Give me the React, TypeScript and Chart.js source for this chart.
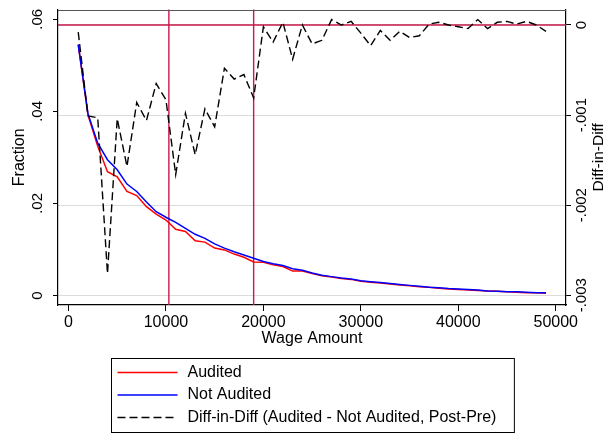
import React, { useEffect, useRef } from "react";
import { Chart, registerables } from "chart.js";

Chart.register(...registerables);

const FONT = "'Liberation Sans', Arial, Helvetica, sans-serif";

// Wage bins (x categories)
const wageBins = [
  1000, 2000, 3000, 4000, 5000, 6000, 7000, 8000, 9000, 10000,
  11000, 12000, 13000, 14000, 15000, 16000, 17000, 18000, 19000, 20000,
  21000, 22000, 23000, 24000, 25000, 26000, 27000, 28000, 29000, 30000,
  31000, 32000, 33000, 34000, 35000, 36000, 37000, 38000, 39000, 40000,
  41000, 42000, 43000, 44000, 45000, 46000, 47000, 48000, 49000,
];

// Fraction (left axis)
const audited = [
  0.0545, 0.0392, 0.0324, 0.0269, 0.0258, 0.0226, 0.0217, 0.0193, 0.0177, 0.0164,
  0.0144, 0.0139, 0.0119, 0.0116, 0.0103, 0.0099, 0.0090, 0.0083, 0.0073, 0.0072,
  0.0067, 0.0063, 0.0053, 0.0053, 0.0048, 0.0043, 0.0040, 0.0037, 0.0035, 0.0031,
  0.0029, 0.0027, 0.0025, 0.0023, 0.0021, 0.0019, 0.0018, 0.0016, 0.0014, 0.0013,
  0.0012, 0.0011, 0.0010, 0.0009, 0.0008, 0.0007, 0.0006, 0.0006, 0.0005,
];

const notAudited = [
  0.0545, 0.0395, 0.0331, 0.0295, 0.0273, 0.0242, 0.0226, 0.0203, 0.0182, 0.0170,
  0.0159, 0.0146, 0.0133, 0.0124, 0.0112, 0.0103, 0.0095, 0.0088, 0.0081, 0.0074,
  0.0069, 0.0065, 0.0058, 0.0055, 0.0049, 0.0044, 0.0041, 0.0038, 0.0036, 0.0032,
  0.0030, 0.0028, 0.0026, 0.0024, 0.0022, 0.0020, 0.0018, 0.0017, 0.0015, 0.0014,
  0.0013, 0.0012, 0.0010, 0.0009, 0.0008, 0.0008, 0.0007, 0.0006, 0.0006,
];

// Diff-in-Diff (right axis)
const diffInDiff = [
  -0.00008, -0.00101, -0.00103, -0.00276, -0.00104, -0.00157, -0.00086, -0.00106, -0.00065, -0.00083,
  -0.00166, -0.00098, -0.00144, -0.00093, -0.00113, -0.00048, -0.0006, -0.00055, -0.00081, -0.00002,
  -0.00019, 0.00003, -0.00038, 0.0, -0.00021, -0.00017, 0.00006, 0.0, 0.00004, -0.00009,
  -0.00023, -0.00006, -0.00017, -0.00007, -0.00014, -0.00012, 0.00001, 0.00003, 0.0, -0.00002,
  -0.00004, 0.00006, -0.00004, 0.00003, 0.00004, 0.00001, 0.00004, 0.0, -0.00007,
];

const seriesNames = [
  "Audited",
  "Not Audited",
  "Diff-in-Diff (Audited - Not Audited, Post-Pre)",
];

const xTicks = [0, 10000, 20000, 30000, 40000, 50000];
const leftTicks = [0, 0.02, 0.04, 0.06];
const leftTickLabels = ["0", ".02", ".04", ".06"];
const rightTicks = [0, -0.001, -0.002, -0.003];
const rightTickLabels = ["0", "-.001", "-.002", "-.003"];
const xTitle = "Wage Amount";
const leftTitle = "Fraction";
const rightTitle = "Diff-in-Diff";

const refWages = [10300, 19000];
const refDiff = 0;

const REF_COLOR = "#c71a4b";

function drawRotated(ctx: CanvasRenderingContext2D, text: string, x: number, y: number, font: string) {
  ctx.save();
  ctx.translate(x, y);
  ctx.rotate(-Math.PI / 2);
  ctx.font = font;
  ctx.fillStyle = "#000";
  ctx.textAlign = "center";
  ctx.textBaseline = "middle";
  ctx.fillText(text, 0, 0);
  ctx.restore();
}

const refLinePlugin = {
  id: "refLines",
  beforeDatasetsDraw(chart: any) {
    const { ctx, chartArea: a, scales } = chart;
    ctx.save();
    ctx.strokeStyle = REF_COLOR;
    ctx.lineWidth = 1.4;
    ctx.beginPath();
    for (const w of refWages) {
      const px = scales.x.getPixelForValue(w);
      ctx.moveTo(px, a.top);
      ctx.lineTo(px, a.bottom);
    }
    const py = scales.y2.getPixelForValue(refDiff);
    ctx.moveTo(a.left, py);
    ctx.lineTo(a.right, py);
    ctx.stroke();
    ctx.restore();
  },
};

const axisLabelPlugin = {
  id: "axisLabels",
  afterDraw(chart: any) {
    const { ctx, chartArea: a, scales } = chart;
    const yS = scales.y;
    const y2S = scales.y2;
    const tickFont = `15px ${FONT}`;
    leftTicks.forEach((v, i) => {
      drawRotated(ctx, leftTickLabels[i], yS.right - 20.5, yS.getPixelForValue(v), tickFont);
    });
    rightTicks.forEach((v, i) => {
      drawRotated(ctx, rightTickLabels[i], y2S.left + 15.7, y2S.getPixelForValue(v), tickFont);
    });
    const midY = (a.top + a.bottom) / 2;
    drawRotated(ctx, leftTitle, yS.left + 20, midY, `16px ${FONT}`);
    drawRotated(ctx, rightTitle, y2S.left + 32.3, midY, `15.5px ${FONT}`);
    // top outline of plot region
    ctx.save();
    ctx.strokeStyle = "#555";
    ctx.lineWidth = 1;
    ctx.beginPath();
    ctx.moveTo(a.left, Math.round(a.top) + 0.5);
    ctx.lineTo(a.right, Math.round(a.top) + 0.5);
    ctx.stroke();
    ctx.restore();
  },
};

const boxLegendPlugin = {
  id: "boxLegend",
  afterDraw(chart: any) {
    const { ctx, chartArea: a } = chart;
    const datasets = chart.data.datasets;
    ctx.save();
    ctx.font = `16px ${FONT}`;
    const textW = Math.max(...datasets.map((d: any) => ctx.measureText(d.label).width));
    const padL = 6, sample = 60, gap = 10, padR = 18;
    const w = padL + sample + gap + textW + padR;
    const h = 74;
    const cx = (a.left + a.right) / 2;
    const left = Math.round(cx - w / 2) + 0.5;
    const top = Math.round(a.bottom + 53) + 0.5;
    ctx.fillStyle = "#fff";
    ctx.fillRect(left, top, w, h);
    ctx.strokeStyle = "#000";
    ctx.lineWidth = 1;
    ctx.strokeRect(left, top, w, h);
    datasets.forEach((d: any, i: number) => {
      const ry = top + 14 + i * 22.5;
      ctx.save();
      ctx.strokeStyle = d.borderColor;
      ctx.lineWidth = d.borderWidth;
      ctx.setLineDash(d.borderDash || []);
      ctx.beginPath();
      ctx.moveTo(left + padL, ry);
      ctx.lineTo(left + padL + sample, ry);
      ctx.stroke();
      ctx.restore();
      ctx.fillStyle = "#000";
      ctx.textAlign = "left";
      ctx.textBaseline = "middle";
      ctx.fillText(d.label, left + padL + sample + gap, ry);
    });
    ctx.restore();
  },
};

export default function App() {
  const canvasRef = useRef<HTMLCanvasElement | null>(null);

  useEffect(() => {
    const canvas = canvasRef.current;
    if (!canvas) return;
    Chart.defaults.font.family = FONT;
    const chart = new Chart(canvas, {
      type: "line",
      data: {
        datasets: [
          {
            label: seriesNames[0],
            data: wageBins.map((x, i) => ({ x, y: audited[i] })),
            yAxisID: "y",
            borderColor: "#ff0000",
            borderWidth: 1.5,
            pointRadius: 0,
            fill: false,
            tension: 0,
            order: 3,
          },
          {
            label: seriesNames[1],
            data: wageBins.map((x, i) => ({ x, y: notAudited[i] })),
            yAxisID: "y",
            borderColor: "#0000ff",
            borderWidth: 1.5,
            pointRadius: 0,
            fill: false,
            tension: 0,
            order: 2,
          },
          {
            label: seriesNames[2],
            data: wageBins.map((x, i) => ({ x, y: diffInDiff[i] })),
            yAxisID: "y2",
            borderColor: "#000000",
            borderWidth: 1.4,
            borderDash: [8, 4],
            pointRadius: 0,
            fill: false,
            tension: 0,
            order: 1,
          },
        ],
      },
      options: {
        animation: false,
        responsive: false,
        maintainAspectRatio: false,
        layout: { padding: { top: 9.5, left: 0, right: 0, bottom: 0 } },
        plugins: {
          legend: { display: false },
          tooltip: { enabled: false },
        },
        scales: {
          x: {
            type: "linear",
            min: -1077,
            max: 51052,
            afterBuildTicks: (s: any) => {
              s.ticks = xTicks.map((v) => ({ value: v }));
            },
            afterFit: (s: any) => {
              s.height = 128;
            },
            ticks: {
              font: { size: 16, family: FONT },
              color: "#000",
              padding: 2,
              maxRotation: 0,
              minRotation: 0,
              autoSkip: false,
              callback: (v: any) => String(v),
            },
            grid: { drawOnChartArea: false, drawTicks: true, tickLength: 6, tickColor: "#000", lineWidth: 1 },
            border: { display: true, color: "#000", width: 1.2 },
            title: {
              display: true,
              text: xTitle,
              color: "#000",
              font: { size: 16, family: FONT },
              padding: { top: 0, bottom: 85 },
            },
          },
          y: {
            type: "linear",
            position: "left",
            min: -0.002064,
            max: 0.06213,
            afterBuildTicks: (s: any) => {
              s.ticks = leftTicks.map((v) => ({ value: v }));
            },
            afterFit: (s: any) => {
              s.width = 58;
            },
            ticks: { display: false },
            grid: { drawOnChartArea: false, drawTicks: true, tickLength: 5, tickColor: "#000", lineWidth: 1 },
            border: { display: true, color: "#000", width: 1.2 },
          },
          y2: {
            type: "linear",
            position: "right",
            min: -0.003108,
            max: 0.000172,
            afterBuildTicks: (s: any) => {
              s.ticks = rightTicks.map((v) => ({ value: v }));
            },
            afterFit: (s: any) => {
              s.width = 50;
            },
            ticks: { display: false },
            grid: { drawOnChartArea: true, color: "#dcdcdc", drawTicks: true, tickLength: 5, tickColor: "#000", lineWidth: 1 },
            border: { display: true, color: "#000", width: 1.2 },
          },
        },
      } as any,
      plugins: [refLinePlugin, axisLabelPlugin, boxLegendPlugin],
    });
    return () => chart.destroy();
  }, []);

  return (
    <div style={{ position: "absolute", left: 0, top: 0, width: 616, height: 433, background: "#fff" }}>
      <canvas ref={canvasRef} width={616} height={433} style={{ width: 616, height: 433, display: "block" }} />
    </div>
  );
}
